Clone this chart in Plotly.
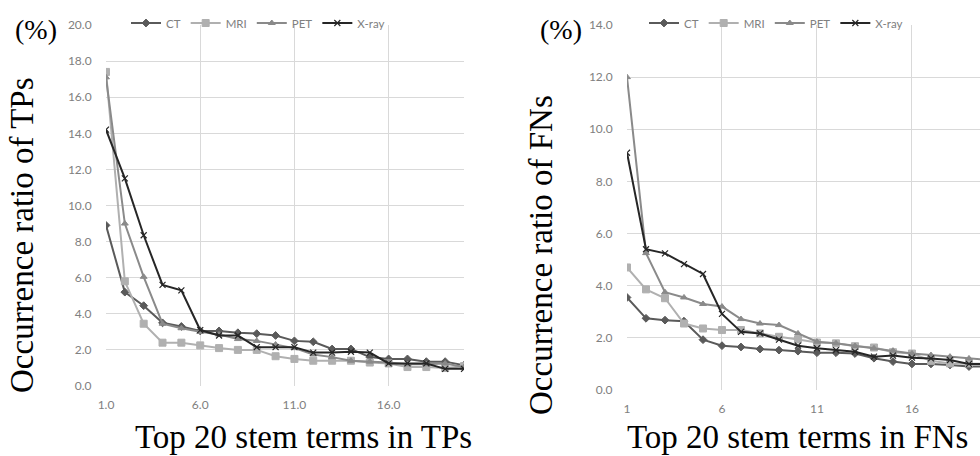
import plotly.graph_objects as go

x_terms = list(range(1, 21))
series_names = ["CT", "MRI", "PET", "X-ray"]

# Occurrence ratio (%) of top 20 stem terms in TPs
tp_ct = [8.9, 5.2, 4.45, 3.5, 3.3, 3.05, 3.05, 2.95, 2.9, 2.8, 2.5, 2.45, 2.05, 2.05, 1.6, 1.5, 1.5, 1.35, 1.35, 1.15]
tp_mri = [17.4, 5.8, 3.45, 2.4, 2.4, 2.25, 2.1, 2.0, 2.0, 1.65, 1.5, 1.4, 1.4, 1.4, 1.3, 1.25, 1.05, 1.05, 1.0, 1.1]
tp_pet = [17.1, 9.0, 6.05, 3.45, 3.2, 3.0, 2.85, 2.6, 2.5, 2.3, 2.1, 1.75, 1.6, 1.4, 1.35, 1.3, 1.2, 1.2, 1.25, 1.05]
tp_xray = [14.2, 11.5, 8.35, 5.6, 5.3, 3.1, 2.8, 2.8, 2.15, 2.15, 2.15, 1.85, 1.85, 1.9, 1.85, 1.25, 1.25, 1.25, 0.95, 0.95]

# Occurrence ratio (%) of top 20 stem terms in FNs
fn_ct = [3.55, 2.75, 2.68, 2.64, 1.93, 1.70, 1.65, 1.57, 1.53, 1.49, 1.43, 1.43, 1.40, 1.22, 1.09, 1.0, 1.0, 0.96, 0.9, 0.9]
fn_mri = [4.7, 3.86, 3.52, 2.55, 2.36, 2.30, 2.30, 2.17, 2.04, 1.94, 1.82, 1.79, 1.68, 1.63, 1.45, 1.40, 1.12, 1.02, 1.02, 1.0]
fn_pet = [12.0, 5.25, 3.75, 3.55, 3.30, 3.20, 2.72, 2.55, 2.49, 2.17, 1.85, 1.79, 1.69, 1.60, 1.51, 1.40, 1.34, 1.28, 1.21, 1.15]
fn_xray = [9.1, 5.4, 5.24, 4.83, 4.45, 2.92, 2.23, 2.17, 1.93, 1.70, 1.60, 1.53, 1.47, 1.28, 1.32, 1.24, 1.21, 1.15, 1.0, 1.0]

tp_x_ticks = [1, 6, 11, 16]
tp_x_labels = ["1.0", "6.0", "11.0", "16.0"]
fn_x_ticks = [1, 6, 11, 16]
fn_x_labels = ["1", "6", "11", "16"]
tp_y_ticks = [0, 2, 4, 6, 8, 10, 12, 14, 16, 18, 20]
fn_y_ticks = [0, 2, 4, 6, 8, 10, 12, 14]

styles = {
    "CT": dict(color="#5a5a5a", symbol="diamond", size=6, lw=1),
    "MRI": dict(color="#b0b0b0", symbol="square", size=7, lw=1),
    "PET": dict(color="#8a8a8a", symbol="triangle-up", size=6, lw=1),
    "X-ray": dict(color="#262626", symbol="x-thin", size=6, lw=1.2),
}

fig = go.Figure()

def add(xs, ys, name, xa, ya, legend):
    st = styles[name]
    fig.add_trace(go.Scatter(
        x=xs, y=ys, name=name, mode="lines+markers",
        xaxis=xa, yaxis=ya, legend=legend,
        line=dict(color=st["color"], width=2),
        marker=dict(symbol=st["symbol"], size=st["size"], color=st["color"],
                    line=dict(color=st["color"], width=st["lw"])),
    ))

for name, ys in zip(series_names, [tp_ct, tp_mri, tp_pet, tp_xray]):
    add(x_terms, ys, name, "x", "y", "legend")
for name, ys in zip(series_names, [fn_ct, fn_mri, fn_pet, fn_xray]):
    add(x_terms, ys, name, "x2", "y2", "legend2")

W, H = 980, 456
grid = "#d9d9d9"
tickfont = dict(family="Lato, Open Sans, sans-serif", size=12, color="#808080")
legfont = dict(family="Lato, Open Sans, sans-serif", size=11.5, color="#808080")
serif = "Liberation Serif, Times New Roman, serif"

common_x = dict(showgrid=True, gridcolor=grid, gridwidth=1, zeroline=False, showline=False,
                tickfont=tickfont, ticks="outside", ticklen=8, tickcolor="rgba(0,0,0,0)",
                automargin=False)
common_y = dict(tickformat=".1f", showgrid=True, gridcolor=grid, gridwidth=1, zeroline=False,
                showline=False, tickfont=tickfont, ticks="outside", ticklen=11,
                tickcolor="rgba(0,0,0,0)", automargin=False)

fig.update_layout(
    width=W, height=H, autosize=False,
    margin=dict(l=0, r=0, t=0, b=0, autoexpand=False),
    paper_bgcolor="white", plot_bgcolor="white",
    xaxis=dict(domain=[106 / W, 464 / W], range=[1, 20], tickvals=tp_x_ticks,
               ticktext=tp_x_labels, **common_x),
    yaxis=dict(domain=[1 - 386 / H, 1 - 25 / H], range=[0, 20], tickvals=tp_y_ticks, **common_y),
    xaxis2=dict(domain=[627 / W, 1.0], range=[1, 19.58], tickvals=fn_x_ticks,
                ticktext=fn_x_labels, anchor="y2", **common_x),
    yaxis2=dict(domain=[1 - 390 / H, 1 - 25 / H], range=[0, 14], tickvals=fn_y_ticks,
                anchor="x2", **common_y),
    legend=dict(orientation="h", x=258 / W, xanchor="center", y=1 - 23 / H, yanchor="middle",
                font=legfont, bgcolor="rgba(255,255,255,0)", itemwidth=30, tracegroupgap=0),
    legend2=dict(orientation="h", x=776 / W, xanchor="center", y=1 - 23 / H, yanchor="middle",
                 font=legfont, bgcolor="rgba(255,255,255,0)", itemwidth=30, tracegroupgap=0),
    annotations=[
        dict(text="(%)", x=36 / W, y=1 - 30 / H, xref="paper", yref="paper", showarrow=False,
             font=dict(family=serif, size=28, color="black"), xanchor="center", yanchor="middle"),
        dict(text="(%)", x=561 / W, y=1 - 30 / H, xref="paper", yref="paper", showarrow=False,
             font=dict(family=serif, size=28, color="black"), xanchor="center", yanchor="middle"),
        dict(text="Occurrence ratio of TPs", x=22 / W, y=1 - 235 / H, xref="paper", yref="paper",
             showarrow=False, textangle=-90, font=dict(family=serif, size=33, color="black"),
             xanchor="center", yanchor="middle"),
        dict(text="Occurrence ratio of FNs", x=541 / W, y=1 - 255 / H, xref="paper", yref="paper",
             showarrow=False, textangle=-90, font=dict(family=serif, size=33, color="black"),
             xanchor="center", yanchor="middle"),
        dict(text="Top 20 stem terms in TPs", x=303 / W, y=0, xref="paper", yref="paper",
             showarrow=False, font=dict(family=serif, size=33, color="black"),
             xanchor="center", yanchor="bottom", borderpad=0),
        dict(text="Top 20 stem terms in FNs", x=797 / W, y=0, xref="paper", yref="paper",
             showarrow=False, font=dict(family=serif, size=33, color="black"),
             xanchor="center", yanchor="bottom", borderpad=0),
    ],
)

fig.write_html("out.html", config={"displayModeBar": False},
               post_script="document.body.style.margin='0';document.body.style.overflow='hidden';")
